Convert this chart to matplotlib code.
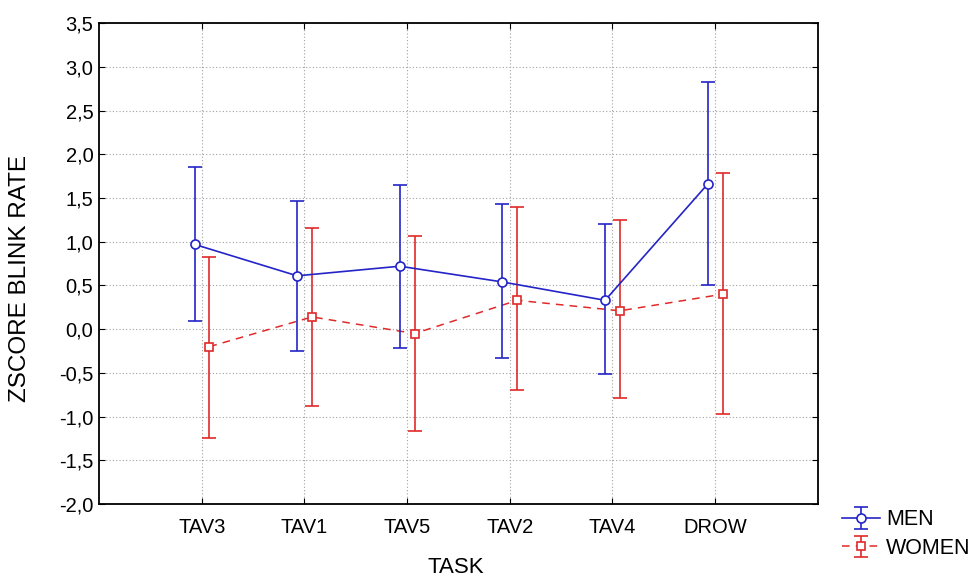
import numpy as np
import matplotlib
matplotlib.use("Agg")
import matplotlib.pyplot as plt
from matplotlib.ticker import FuncFormatter, MultipleLocator

plt.rcParams["font.family"] = ["Liberation Sans", "DejaVu Sans"]

# data
tasks = ["TAV3", "TAV1", "TAV5", "TAV2", "TAV4", "DROW"]

men_mean = [0.97, 0.61, 0.72, 0.54, 0.33, 1.66]
men_low = [0.09, -0.25, -0.21, -0.33, -0.51, 0.51]
men_high = [1.85, 1.47, 1.65, 1.43, 1.20, 2.83]

women_mean = [-0.20, 0.14, -0.05, 0.33, 0.21, 0.40]
women_low = [-1.25, -0.88, -1.16, -0.70, -0.79, -0.97]
women_high = [0.83, 1.16, 1.07, 1.40, 1.25, 1.79]

blue = "#2424c8"
red = "#e02a2a"

x = np.arange(1, len(tasks) + 1)
men_mean = np.array(men_mean)
women_mean = np.array(women_mean)
men_err = [men_mean - np.array(men_low), np.array(men_high) - men_mean]
women_err = [women_mean - np.array(women_low), np.array(women_high) - women_mean]

fig = plt.figure(figsize=(9.71, 5.79), dpi=100)
ax = fig.add_axes([0.102, 0.1295, 0.740, 0.8305])

men = ax.errorbar(x - 0.07, men_mean, yerr=men_err, color=blue, lw=1.2,
                  elinewidth=1.2, capsize=5, capthick=1.2,
                  marker="o", ms=6.5, mfc="white", mec=blue, mew=1.2,
                  label="MEN", zorder=4)
women = ax.errorbar(x + 0.075, women_mean, yerr=women_err, color=red, lw=1.1,
                    ls=(0, (5, 4)), elinewidth=1.2, capsize=5, capthick=1.2,
                    marker="s", ms=6, mfc="white", mec=red, mew=1.2,
                    label="WOMEN", zorder=3)
women[2][0].set_linestyle("-")

ax.set_xlim(0, 7)
ax.set_ylim(-2.0, 3.5)
ax.set_xticks(x)
ax.set_xticklabels(tasks)
ax.yaxis.set_major_locator(MultipleLocator(0.5))
ax.yaxis.set_major_formatter(FuncFormatter(lambda v, p: f"{v:.1f}".replace(".", ",")))

ax.grid(True, color="#a0a0a0", ls=(0, (1, 2)), lw=0.8)
ax.tick_params(direction="in", length=4, top=True, right=True, labelsize=14.5,
               colors="black")
ax.tick_params(axis="x", pad=10)
ax.tick_params(axis="y", pad=4)
for s in ax.spines.values():
    s.set_linewidth(1.3)

ax.set_xlabel("TASK", fontsize=16)
ax.xaxis.set_label_coords(0.497, -0.11)
ax.set_ylabel("ZSCORE BLINK RATE", fontsize=17.5)
ax.yaxis.set_label_coords(-0.095, 0.468)

fig.legend(handles=[men, women], labels=["MEN", "WOMEN"], loc="lower left",
           bbox_to_anchor=(0.858, 0.02), frameon=False, fontsize=15.5,
           handlelength=1.8, handletextpad=0.25, labelspacing=0.35,
           borderaxespad=0)

fig.savefig("out.png", dpi=100)
